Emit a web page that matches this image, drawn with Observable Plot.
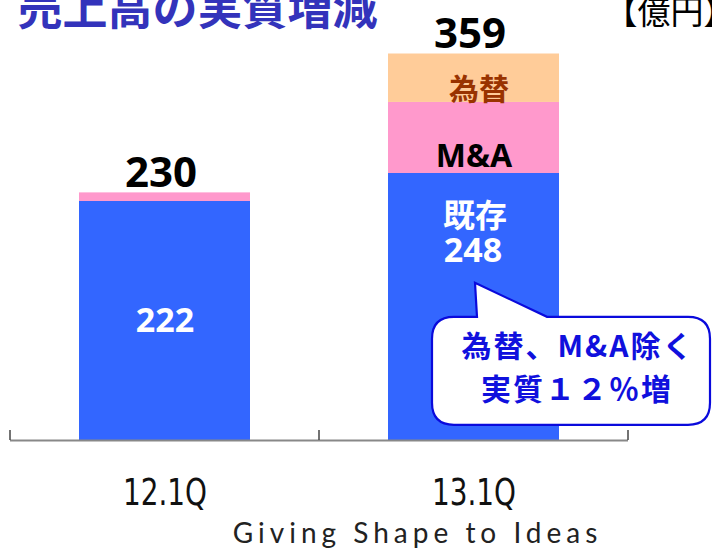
<!DOCTYPE html>
<html><head><meta charset="utf-8">
<script src="https://cdn.jsdelivr.net/npm/d3@7"></script>
<script src="https://cdn.jsdelivr.net/npm/@observablehq/plot@0.6"></script>
<style>
html,body{margin:0;padding:0;background:#fff;}
#chart{width:712px;height:552px;overflow:hidden;}
</style></head><body><div id="chart"></div>
<script>
const categories = ["12.1Q", "13.1Q"];
const segments = ["既存", "M&A", "為替"];
const existingValues = [222, 248];
const maValues = [8, 66];
const fxValues = [0, 45];
const totals = [230, 359];
const segmentColors = ["#3366ff", "#ff99cc", "#ffcc99"];
const title = "売上高の実質増減";
const unitLabel = "【億円】";
const existingLabel = "既存";
const calloutLines = ["為替、M&A除く", "実質１２％増"];
const calloutAnchor = {cat: "13.1Q", value: 146};
const footer = "Giving Shape to Ideas";

const rows = [];
categories.forEach((cat, i) => {
  [existingValues[i], maValues[i], fxValues[i]].forEach((v, j) => {
    if (v > 0) rows.push({cat, seg: segments[j], value: v});
  });
});
const tops = categories.map((cat, i) => ({
  cat,
  existing: existingValues[i],
  ma: existingValues[i] + maValues[i],
  fx: existingValues[i] + maValues[i] + fxValues[i],
  total: totals[i]
}));

const numFont = "'Noto Sans', 'Noto Sans CJK JP', sans-serif";
const cjkFont = "'Noto Sans CJK JP', 'Noto Sans', sans-serif";

function bandTicks(index, scales, values, dims) {
  const x = scales.x, y = scales.y;
  const bw = typeof x.bandwidth === "function" ? x.bandwidth() : x.bandwidth;
  const xs = categories.map(c => x(c));
  const edges = [dims.marginLeft];
  for (let i = 1; i < xs.length; i++) edges.push((xs[i - 1] + bw + xs[i]) / 2);
  edges.push(dims.width - dims.marginRight);
  const y0 = y(0);
  const g = d3.create("svg:g");
  g.selectAll("line").data(edges).join("line")
    .attr("x1", d => d).attr("x2", d => d)
    .attr("y1", y0).attr("y2", y0 - 10)
    .attr("stroke", "#444").attr("stroke-width", 1.5);
  return g.node();
}

function calloutShape(index, scales, values, dims) {
  const x = scales.x, y = scales.y;
  const bw = typeof x.bandwidth === "function" ? x.bandwidth() : x.bandwidth;
  const tx = x(calloutAnchor.cat) + bw / 2 + 1.5;
  const ty = y(calloutAnchor.value);
  const L = tx - 43, R = tx + 235, T = ty + 34, B = ty + 142, r = 22;
  const a = tx + 2, b = tx + 72;
  const p = `M${L + r},${T}L${a},${T}L${tx},${ty}L${b},${T}L${R - r},${T}Q${R},${T} ${R},${T + r}L${R},${B - r}Q${R},${B} ${R - r},${B}L${L + r},${B}Q${L},${B} ${L},${B - r}L${L},${T + r}Q${L},${T} ${L + r},${T}Z`;
  const g = d3.create("svg:g");
  g.append("path").attr("d", p).attr("fill", "#fff").attr("stroke", "#0a0adc").attr("stroke-width", 2.2);
  return g.node();
}

const only = (cat) => tops.filter(d => d.cat === cat);

const chart = Plot.plot({
  width: 712,
  height: 552,
  marginTop: 53.5,
  marginBottom: 112,
  marginLeft: 10,
  marginRight: 84,
  x: {domain: categories, paddingInner: 0.447, paddingOuter: 0.2235, label: null},
  y: {domain: [0, 359], axis: null},
  color: {domain: segments, range: segmentColors},
  marks: [
    Plot.barY(rows, {x: "cat", y: "value", fill: "seg"}),
    Plot.ruleY([0], {stroke: "#888", strokeWidth: 2}),
    bandTicks,
    Plot.axisX({tickSize: 0, tickPadding: 38, fontSize: 37, fill: "#111", label: null,
      fontFamily: "'Liberation Sans Narrow', 'Arial Narrow', 'DejaVu Sans Condensed', sans-serif"}),
    // totals above bars
    Plot.text(tops, {x: "cat", y: "total", text: d => String(d.total), lineAnchor: "bottom", dy: -6, dx: -4,
      fontSize: 42, fontWeight: "bold", fontFamily: numFont, fill: "#000"}),
    // 12.1Q existing
    Plot.text(only("12.1Q"), {x: "cat", y: "existing", text: d => String(d.existing), lineAnchor: "bottom", dy: 131,
      fontSize: 34, fontWeight: "bold", fontFamily: numFont, fill: "#fff"}),
    // 13.1Q existing
    Plot.text(only("13.1Q"), {x: "cat", y: "existing", text: () => existingLabel, lineAnchor: "bottom", dy: 53, dx: 1,
      fontSize: 32, fontWeight: "bold", fontFamily: cjkFont, fill: "#fff"}),
    Plot.text(only("13.1Q"), {x: "cat", y: "existing", text: d => String(d.existing), lineAnchor: "bottom", dy: 88, dx: -1,
      fontSize: 34, fontWeight: "bold", fontFamily: numFont, fill: "#fff"}),
    // M&A
    Plot.text(only("13.1Q"), {x: "cat", y: "ma", text: () => segments[1], lineAnchor: "bottom", dy: 65,
      fontSize: 32, fontWeight: "bold", fontFamily: numFont, fill: "#000"}),
    // 為替
    Plot.text(only("13.1Q"), {x: "cat", y: "fx", text: () => segments[2], lineAnchor: "bottom", dy: 46, dx: 5,
      fontSize: 30, fontWeight: "bold", fontFamily: cjkFont, fill: "#993300"}),
    // callout
    calloutShape,
    Plot.text([calloutAnchor], {x: "cat", y: "value", text: () => calloutLines[0], lineAnchor: "bottom", dx: 104, dy: 74,
      fontSize: 30, fontWeight: "bold", fontFamily: cjkFont, fill: "#1010dd"}),
    Plot.text([calloutAnchor], {x: "cat", y: "value", text: () => calloutLines[1], lineAnchor: "bottom", dx: 103, dy: 117,
      fontSize: 30, fontWeight: "bold", fontFamily: cjkFont, fill: "#1010dd"}),
    // title, unit, footer
    Plot.text([title], {frameAnchor: "top-left", text: d => d, textAnchor: "start", lineAnchor: "bottom", dx: 7, dy: -29.5,
      fontSize: 45, fontWeight: "bold", fontFamily: cjkFont, fill: "#3333bb"}),
    Plot.text([unitLabel], {frameAnchor: "top-right", text: d => d, textAnchor: "start", lineAnchor: "bottom", dx: -24, dy: -30.5,
      fontSize: 33, fontFamily: cjkFont, fill: "#000"}),
    Plot.text([footer], {frameAnchor: "bottom", text: d => d, textAnchor: "middle", lineAnchor: "bottom", dx: 98, dy: 102,
      fontSize: 28, fontFamily: "Lato, 'Open Sans', sans-serif", fill: "#222"})
  ]
});

const svg = d3.select(chart);
svg.selectAll("text").filter(function() { return this.textContent === footer; })
  .style("letter-spacing", "5px");
svg.selectAll("text").filter(function() { return calloutLines.includes(this.textContent); })
  .style("letter-spacing", "2px");
svg.selectAll("text").filter(function() { return categories.includes(this.textContent); })
  .attr("textLength", 84).attr("lengthAdjust", "spacingAndGlyphs");
document.getElementById("chart").append(chart);
</script>
</body></html>
